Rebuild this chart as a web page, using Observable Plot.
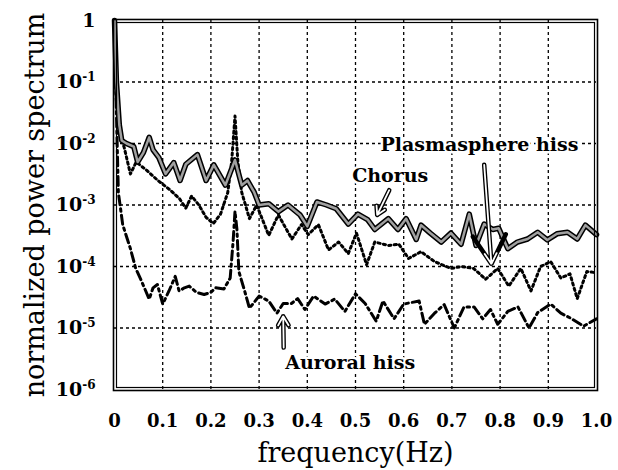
<!DOCTYPE html>
<html>
<head>
<meta charset="utf-8">
<script src="https://cdn.jsdelivr.net/npm/d3@7"></script>
<script src="https://cdn.jsdelivr.net/npm/@observablehq/plot@0.6"></script>
<style>
  html, body { margin: 0; padding: 0; background: white; }
</style>
</head>
<body>
<div id="chart"></div>
<script>
// ---- Data ----
const xTicks = [0, 0.1, 0.2, 0.3, 0.4, 0.5, 0.6, 0.7, 0.8, 0.9, 1.0];
const xTickLabels = ["0", "0.1", "0.2", "0.3", "0.4", "0.5", "0.6", "0.7", "0.8", "0.9", "1.0"];
const yTicks = [1, 1e-1, 1e-2, 1e-3, 1e-4, 1e-5, 1e-6];
const yTickBase = ["1", "10", "10", "10", "10", "10", "10"];
const yTickExp = ["", "-1", "-2", "-3", "-4", "-5", "-6"];
const xGrid = [0.1, 0.2, 0.3, 0.4, 0.5, 0.6, 0.7, 0.8, 0.9];
const yGrid = [1e-1, 1e-2, 1e-3, 1e-4, 1e-5];

// Chorus (grey solid line)
const chorusF = [0, 0.004, 0.01, 0.015, 0.025, 0.04, 0.048, 0.06, 0.072, 0.08,
  0.092, 0.106, 0.123, 0.136, 0.148, 0.172, 0.19, 0.206, 0.23, 0.25,
  0.264, 0.276, 0.29, 0.3, 0.32, 0.34, 0.36, 0.385, 0.40, 0.42,
  0.44, 0.46, 0.485, 0.505, 0.525, 0.54, 0.568, 0.588, 0.605, 0.626,
  0.636, 0.655, 0.678, 0.698, 0.719, 0.736, 0.75, 0.767, 0.785, 0.797,
  0.816, 0.836, 0.857, 0.878, 0.898, 0.918, 0.94, 0.96, 0.977, 1.0];
const chorusP = [1, 1e-1, 2e-2, 1.12e-2, 1e-2, 8.9e-3, 5e-3, 7.1e-3, 1.26e-2, 7.9e-3,
  5.9e-3, 3.2e-3, 4.9e-3, 2.5e-3, 4.6e-3, 6.6e-3, 2.5e-3, 4.5e-3, 2.1e-3, 5.4e-3,
  2.1e-3, 2.5e-3, 1.6e-3, 1e-3, 1.05e-3, 7.8e-4, 1e-3, 6.9e-4, 4.5e-4, 1.12e-3,
  1e-3, 8.7e-4, 4.9e-4, 7.1e-4, 5.8e-4, 4e-4, 6e-4, 4e-4, 6e-4, 2.75e-4,
  4.7e-4, 3.5e-4, 2.5e-4, 3.5e-4, 2.3e-4, 7.1e-4, 2.2e-4, 4.9e-4, 4e-4, 4.2e-4,
  1.95e-4, 2.5e-4, 2.8e-4, 3.6e-4, 2.7e-4, 3.4e-4, 3.6e-4, 2.8e-4, 4.7e-4, 3.3e-4];

// Plasmasphere hiss (dotted line)
const plasmaF = [0, 0.004, 0.01, 0.02, 0.033, 0.045, 0.068, 0.09, 0.116, 0.135,
  0.148, 0.16, 0.175, 0.19, 0.205, 0.22, 0.235, 0.243, 0.25, 0.256,
  0.264, 0.28, 0.295, 0.32, 0.34, 0.368, 0.388, 0.402, 0.423, 0.444,
  0.465, 0.485, 0.502, 0.523, 0.54, 0.568, 0.59, 0.61, 0.636, 0.664,
  0.698, 0.72, 0.745, 0.77, 0.795, 0.818, 0.843, 0.864, 0.884, 0.905,
  0.926, 0.945, 0.96, 0.98, 1.0];
const plasmaP = [1, 6.3e-2, 1.4e-2, 8.7e-3, 3.2e-3, 5e-3, 3.6e-3, 2.5e-3, 1.74e-3, 1.26e-3,
  8.9e-4, 1.4e-3, 1e-3, 6.3e-4, 5e-4, 7.1e-4, 1.6e-3, 5e-3, 2.8e-2, 5e-3,
  1.6e-3, 6e-4, 1e-3, 3.2e-4, 6.9e-4, 2.8e-4, 4.8e-4, 3.3e-4, 4.8e-4, 1.86e-4,
  2.5e-4, 1.62e-4, 3.5e-4, 1.07e-4, 2.5e-4, 2.2e-4, 2.3e-4, 1.35e-4, 1.74e-4, 1.2e-4,
  9.3e-5, 1e-4, 9.3e-5, 6.2e-5, 9.3e-5, 4.8e-5, 9.3e-5, 4e-5, 1e-4, 1.2e-4,
  6.5e-5, 7.6e-5, 3e-5, 8.3e-5, 7.9e-5];

// Auroral hiss (dash-dot line)
const auroralF = [0, 0.004, 0.008, 0.017, 0.033, 0.044, 0.054, 0.072, 0.08, 0.089,
  0.1, 0.113, 0.126, 0.134, 0.145, 0.155, 0.17, 0.186, 0.2, 0.21,
  0.227, 0.24, 0.246, 0.25, 0.254, 0.258, 0.27, 0.28, 0.3, 0.32,
  0.337, 0.35, 0.367, 0.38, 0.395, 0.413, 0.437, 0.457, 0.478, 0.5,
  0.52, 0.543, 0.557, 0.58, 0.6, 0.632, 0.643, 0.664, 0.684, 0.705,
  0.725, 0.746, 0.764, 0.78, 0.795, 0.816, 0.837, 0.86, 0.878, 0.905,
  0.926, 0.946, 0.973, 1.0];
const auroralP = [1, 3.2e-2, 1.6e-3, 4.8e-4, 1.95e-4, 9.3e-5, 6.3e-5, 2.95e-5, 4.5e-5, 5.1e-5,
  2.45e-5, 4e-5, 6.9e-5, 4e-5, 4.5e-5, 4.8e-5, 3.8e-5, 3.5e-5, 3.8e-5, 4.5e-5,
  4.3e-5, 6.5e-5, 2.5e-4, 7.9e-4, 4e-4, 8.3e-5, 4e-5, 2.1e-5, 3.3e-5, 2.75e-5,
  1.74e-5, 2.5e-5, 2.5e-5, 3e-5, 2e-5, 3.3e-5, 2.45e-5, 2.95e-5, 1.86e-5, 3.6e-5,
  2.5e-5, 1.29e-5, 2.75e-5, 1.41e-5, 2.45e-5, 2.75e-5, 1.15e-5, 1.74e-5, 2.4e-5, 1e-5,
  2.2e-5, 2.2e-5, 1.41e-5, 2e-5, 1.15e-5, 1.86e-5, 2.2e-5, 1e-5, 1.78e-5, 2.45e-5,
  1.74e-5, 1.45e-5, 1.07e-5, 1.41e-5];

// Annotations
const labelNames = ["Plasmasphere hiss", "Chorus", "Auroral hiss"];
const labelF = [0.757, 0.572, 0.489];
const labelP = [9.6e-3, 3.0e-3, 2.7e-6];
const arrowF1 = [0.767, 0.570, 0.351];
const arrowP1 = [4.5e-3, 1.74e-3, 4.8e-6];
const arrowF2 = [0.782, 0.545, 0.350];
const arrowP2 = [1.1e-4, 6.9e-4, 1.55e-5];

const xTitle = "frequency(Hz)";
const yTitle = "normalized power spectrum";

// ---- Build tables ----
const chorus = chorusF.map((f, i) => ({f, p: chorusP[i]}));
const plasma = plasmaF.map((f, i) => ({f, p: plasmaP[i]}));
const auroral = auroralF.map((f, i) => ({f, p: auroralP[i]}));
const labels = labelNames.map((t, i) => ({t, f: labelF[i], p: labelP[i]}));
const arrows = arrowF1.map((f1, i) => ({f1, p1: arrowP1[i], f2: arrowF2[i], p2: arrowP2[i]}));

const serif = "'DejaVu Serif', 'Liberation Serif', serif";
const SEP = "\u0001";

const chart = Plot.plot({
  width: 618,
  height: 470,
  marginLeft: 114,
  marginRight: 22,
  marginTop: 20,
  marginBottom: 81,
  style: {fontFamily: serif, background: "white", color: "black"},
  x: {domain: [0, 1]},
  y: {type: "log", domain: [1e-6, 1]},
  marks: [
    Plot.gridX(xGrid, {stroke: "black", strokeOpacity: 1, strokeWidth: 1.3, strokeDasharray: "3,3"}),
    Plot.gridY(yGrid, {stroke: "black", strokeOpacity: 1, strokeWidth: 1.3, strokeDasharray: "3,3"}),
    Plot.axisX(xTicks, {tickSize: 0, tickPadding: 25, fontSize: 18, fontWeight: "bold",
      tickFormat: d => xTickLabels[xTicks.indexOf(d)], label: null}),
    Plot.axisY(yTicks, {tickSize: 0, tickPadding: 19, fontSize: 19, fontWeight: "bold",
      tickFormat: d => { const i = yTicks.indexOf(d); return yTickExp[i] ? yTickBase[i] + SEP + yTickExp[i] : yTickBase[i]; },
      label: null}),
    Plot.axisY({ticks: [], tickSize: 0, label: yTitle, labelAnchor: "center", labelOffset: 90,
      labelArrow: "none", fontSize: 27}),
    // Auroral hiss
    Plot.line(auroral, {x: "f", y: "p", stroke: "black", strokeWidth: 3, strokeDasharray: "9,4,2.5,4"}),
    // Plasmasphere hiss
    Plot.line(plasma, {x: "f", y: "p", stroke: "black", strokeWidth: 3, strokeDasharray: "2.2,3.3"}),
    // Chorus
    Plot.line(chorus, {x: "f", y: "p", stroke: "black", strokeWidth: 5.5, strokeLinejoin: "round"}),
    Plot.line(chorus, {x: "f", y: "p", stroke: "#a0a0a0", strokeWidth: 2.5, strokeLinejoin: "round"}),
    // Arrows (hollow look)
    Plot.arrow(arrows, {x1: "f1", y1: "p1", x2: "f2", y2: "p2", stroke: "black", strokeWidth: 4.5, headLength: 11}),
    Plot.arrow(arrows, {x1: "f1", y1: "p1", x2: "f2", y2: "p2", stroke: "white", strokeWidth: 1.8, headLength: 10}),
    // Labels
    Plot.text(labels, {x: "f", y: "p", text: "t", fontSize: 19, fontWeight: "bold", fill: "black",
      stroke: "white", strokeWidth: 5}),
    // Frame (double line)
    Plot.frame({stroke: "black", strokeWidth: 1.6, inset: -1}),
    Plot.frame({stroke: "black", strokeWidth: 1.2, inset: 2}),
    // X title
    Plot.text([xTitle], {frameAnchor: "bottom", dy: 72, fontSize: 27})
  ]
});

// Turn "10<SEP>-n" tick labels into real superscripts
chart.querySelectorAll("text").forEach(t => {
  const s = t.textContent;
  if (s.includes(SEP)) {
    const [base, exp] = s.split(SEP);
    t.textContent = "";
    const b = document.createElementNS("http://www.w3.org/2000/svg", "tspan");
    b.textContent = base;
    const e = document.createElementNS("http://www.w3.org/2000/svg", "tspan");
    e.textContent = exp;
    e.setAttribute("font-size", "12");
    e.setAttribute("dy", "-0.55em");
    t.appendChild(b);
    t.appendChild(e);
  }
});
document.getElementById("chart").appendChild(chart);
</script>
</body>
</html>
